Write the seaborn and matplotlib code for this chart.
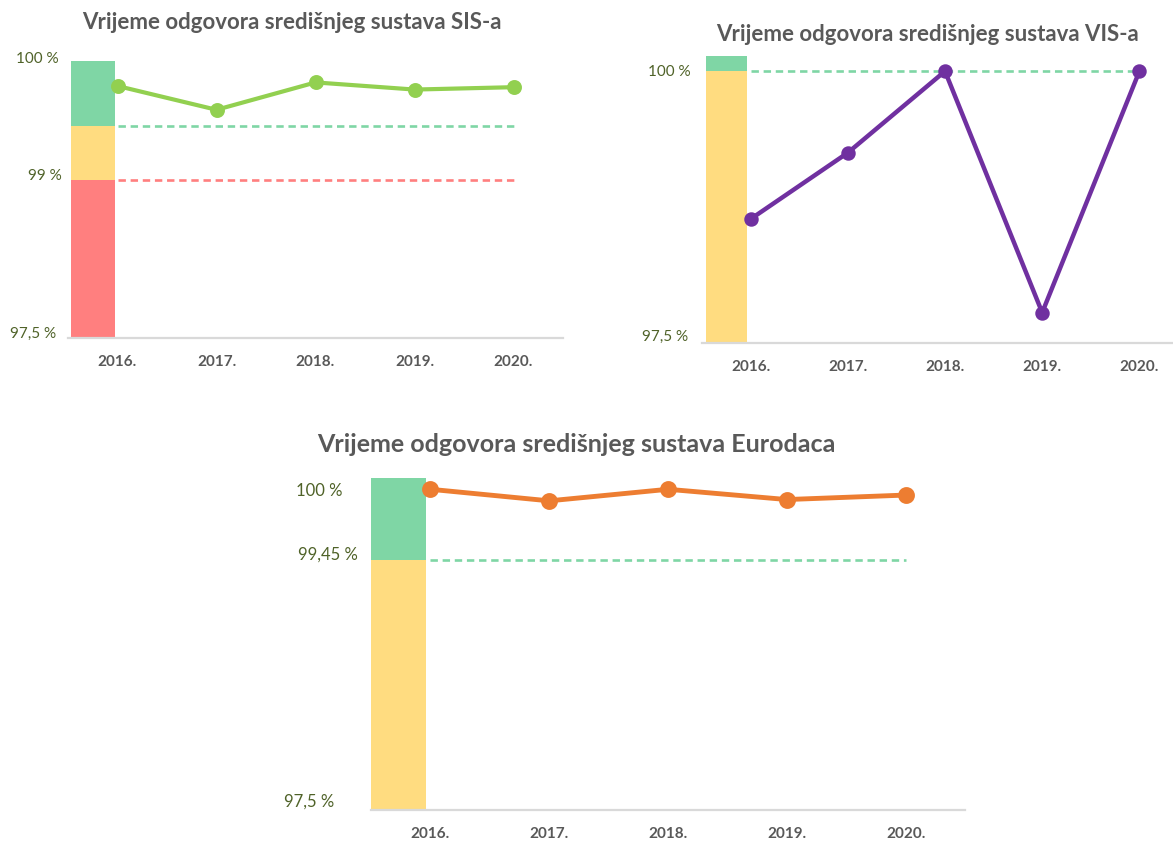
import numpy as np
import matplotlib
matplotlib.use('Agg')
import matplotlib.pyplot as plt
import matplotlib.transforms as mtransforms
import seaborn as sns

# data
years = ['2016.', '2017.', '2018.', '2019.', '2020.']

sis_values = [99.79, 99.59, 99.82, 99.76, 99.78]
vis_values = [98.64, 99.25, 100.0, 97.78, 100.0]
eurodac_values = [100.0, 99.91, 100.0, 99.92, 99.955]

# coloured column = threshold bands (low, high)
sis_bands = [(97.5, 99.0), (99.0, 99.45), (99.45, 100.0)]
vis_bands = [(97.5, 100.0), (100.0, 100.14)]
eurodac_bands = [(97.5, 99.45), (99.45, 100.088)]

sis_thresholds = [99.45, 99.0]
vis_thresholds = [100.0]
eurodac_thresholds = [99.45]

sis_ticks = [97.5, 99.0, 100.0]
sis_ticklabels = ['97,5 %', '99 %', '100 %']
vis_ticks = [97.5, 100.0]
vis_ticklabels = ['97,5 %', '100 %']
eurodac_ticks = [97.5, 99.45, 100.0]
eurodac_ticklabels = ['97,5 %', '99,45 %', '100 %']

RED = '#FF7F7F'
YELLOW = '#FFDC80'
GREEN = '#7FD6A5'
TITLE_C = '#595959'
YLAB_C = '#4F6228'

sns.set_theme(style='white')
plt.rcParams['font.family'] = ['Lato', 'DejaVu Sans']

W, H = 1173, 843
fig = plt.figure(figsize=(W / 100, H / 100), dpi=100)


def px_axes(left, top, right, bottom):
    return fig.add_axes([left / W, (H - bottom) / H, (right - left) / W, (bottom - top) / H])


def panel(ax, values, color, bands, band_colors, thresholds, thr_colors,
          ticks, ticklabels, ylim, lw, ms, bar_x, bar_w, ysize, ypad, shifts):
    # threshold column left of the first year
    for (lo, hi), c in zip(bands, band_colors):
        ax.bar(bar_x, hi - lo, bottom=lo, width=bar_w, color=c, linewidth=0, zorder=1)
    n = len(years)
    for t, c in zip(thresholds, thr_colors):
        ax.plot([0, n - 1], [t, t], color=c, lw=1.9, linestyle=(0, (2.8, 1.8)), zorder=2)
    sns.pointplot(x=years, y=values, color=color, markers='o', markersize=ms,
                  linewidth=lw, errorbar=None, ax=ax, zorder=3)
    ax.set_xlim(-0.5, 4.5)
    ax.set_ylim(*ylim)
    ax.set_yticks(ticks)
    ax.set_yticklabels(ticklabels)
    ax.set_xlabel('')
    ax.set_ylabel('')
    for s in ['left', 'right', 'top']:
        ax.spines[s].set_visible(False)
    ax.spines['bottom'].set_color('#D9D9D9')
    ax.spines['bottom'].set_linewidth(1.6)
    ax.tick_params(axis='x', length=0, pad=12, labelsize=11, labelcolor=TITLE_C)
    ax.tick_params(axis='y', length=0, pad=ypad, labelsize=ysize, labelcolor=YLAB_C)
    for lab in ax.get_xticklabels():
        lab.set_fontweight('bold')
    # labels in the original sit a little off their ticks
    for lab, (dx, dy) in zip(ax.get_yticklabels(), shifts):
        off = mtransforms.ScaledTranslation(dx / 100, dy / 100, fig.dpi_scale_trans)
        lab.set_transform(lab.get_transform() + off)


# SIS panel: uneven vertical scale (97,5-99 squeezed, 99-100 stretched)
ax1 = px_axes(68, 61, 563, 338)
sis_fwd = lambda v: np.interp(v, [97.5, 99.0, 100.0], [0.0, 158.0, 277.0])
sis_inv = lambda t: np.interp(t, [0.0, 158.0, 277.0], [97.5, 99.0, 100.0])
ax1.set_yscale('function', functions=(sis_fwd, sis_inv))
panel(ax1, sis_values, '#92D050', sis_bands, [RED, YELLOW, GREEN], sis_thresholds, [GREEN, RED],
      sis_ticks, sis_ticklabels, (97.5, 100.0), 3.0, 8.5, -0.25, 0.445, 11, 7,
      [(-2, 6), (3, 6), (0, 4)])

ax2 = px_axes(702, 56, 1188, 343)
panel(ax2, vis_values, '#7030A0', vis_bands, [YELLOW, GREEN], vis_thresholds, [GREEN],
      vis_ticks, vis_ticklabels, (97.5, 100.14), 3.2, 8.0, -0.25, 0.42, 11, 8,
      [(-3, 8), (0, 1)])

ax3 = px_axes(371, 478, 965, 810)
panel(ax3, eurodac_values, '#ED7D31', eurodac_bands, [YELLOW, GREEN], eurodac_thresholds, [GREEN],
      eurodac_ticks, eurodac_ticklabels, (97.5, 100.088), 3.5, 9.5, -0.267, 0.466, 12, 18,
      [(-12, 10), (12, 7), (-3, 0)])

fig.text(292, H - 29, 'Vrijeme odgovora središnjeg sustava SIS-a', transform=None,
         ha='center', va='baseline', fontsize=16, fontweight='bold', color=TITLE_C)
fig.text(928, H - 41, 'Vrijeme odgovora središnjeg sustava VIS-a', transform=None,
         ha='center', va='baseline', fontsize=16, fontweight='bold', color=TITLE_C)
fig.text(576, H - 452, 'Vrijeme odgovora središnjeg sustava Eurodaca', transform=None,
         ha='center', va='baseline', fontsize=18, fontweight='bold', color=TITLE_C)

fig.savefig('out.png', dpi=100)
